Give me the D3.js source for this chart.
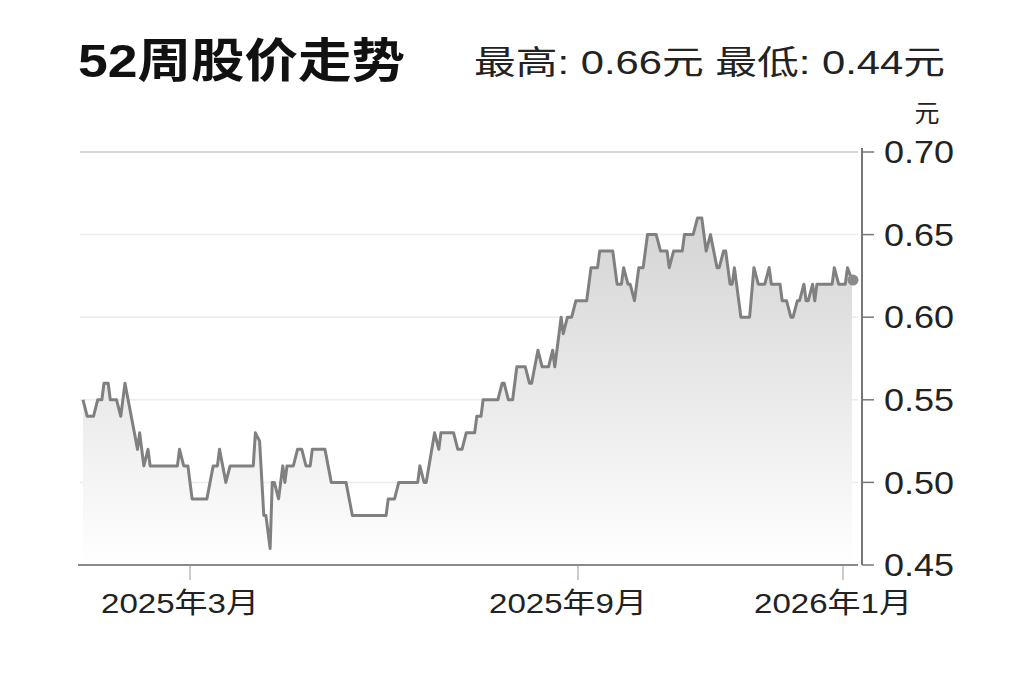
<!DOCTYPE html><html><head><meta charset="utf-8">
<script src="https://cdn.jsdelivr.net/npm/d3@7"></script>
<style>body{margin:0;background:#fff}</style></head><body><svg id="c" width="1023" height="682"></svg>
<script>
const dayOffsets=[0,2,5,7,9,10,12,13,16,18,20,26,27,29,31,32,45,46,48,50,52,59,62,64,65,68,70,81,82,84,86,87,89,90,91,93,95,96,97,100,102,104,106,108,109,115,118,125,128,144,145,148,150,159,160,162,163,167,169,170,176,178,180,182,186,187,189,190,197,199,200,202,204,206,210,212,213,216,218,221,223,224,227,228,230,232,234,239,241,244,245,251,253,255,256,258,259,261,263,265,267,271,273,276,277,279,283,284,288,290,292,294,296,299,300,302,303,305,306,307,310,314,316,318,321,323,324,328,329,331,333,334,336,337,339,340,341,343,344,345,352,353,355,358,359,361];
const prices=[0.55,0.54,0.54,0.55,0.55,0.56,0.56,0.55,0.55,0.54,0.56,0.52,0.53,0.51,0.52,0.51,0.51,0.52,0.51,0.51,0.49,0.49,0.51,0.51,0.52,0.50,0.51,0.51,0.53,0.525,0.48,0.48,0.46,0.50,0.50,0.49,0.51,0.50,0.51,0.51,0.52,0.52,0.51,0.51,0.52,0.52,0.50,0.50,0.48,0.48,0.49,0.49,0.50,0.50,0.51,0.50,0.50,0.53,0.52,0.53,0.53,0.52,0.52,0.53,0.53,0.54,0.54,0.55,0.55,0.56,0.56,0.55,0.55,0.57,0.57,0.56,0.56,0.58,0.57,0.57,0.58,0.57,0.60,0.59,0.60,0.60,0.61,0.61,0.63,0.63,0.64,0.64,0.62,0.62,0.63,0.62,0.62,0.61,0.63,0.63,0.65,0.65,0.64,0.64,0.63,0.64,0.64,0.65,0.65,0.66,0.66,0.64,0.65,0.63,0.63,0.64,0.64,0.62,0.62,0.63,0.60,0.60,0.63,0.62,0.62,0.63,0.62,0.62,0.61,0.61,0.60,0.60,0.61,0.61,0.62,0.61,0.61,0.62,0.61,0.62,0.62,0.63,0.62,0.62,0.63,0.6225];
const yTicks=[0.45,0.50,0.55,0.60,0.65,0.70];
const xTickDates=["2025-03-01","2025-09-01","2026-01-01"];
const xTickLabels=["2025年3月","2025年9月","2026年1月"];
const startDate=new Date(2025,0,9);

const svg=d3.select("#c");
const F="'Liberation Sans','DejaVu Sans','Noto Sans CJK SC',sans-serif";
const parse=d3.timeParse("%Y-%m-%d");
const data=dayOffsets.map((d,i)=>({date:d3.timeDay.offset(startDate,d),v:prices[i]}));
const x=d3.scaleTime().domain([startDate,parse("2025-03-01"),parse("2025-09-01"),parse("2026-01-01"),d3.timeDay.offset(startDate,361)]).range([83,190,578,843,852]);
const y=d3.scaleLinear().domain([0.45,0.70]).range([565,152]);

const defs=svg.append("defs");
const g=defs.append("linearGradient").attr("id","gr").attr("x1",0).attr("y1",0).attr("x2",0).attr("y2",1);
g.append("stop").attr("offset","0%").attr("stop-color","#d4d4d4");
g.append("stop").attr("offset","100%").attr("stop-color","#ffffff");

svg.append("g").selectAll("line").data(yTicks.slice(1)).join("line")
 .attr("x1",80).attr("x2",858).attr("y1",d=>y(d)).attr("y2",d=>y(d))
 .attr("stroke",d=>d===0.70?"#c8c8c8":"#ececec").attr("stroke-width",1.5);

svg.append("path").datum(data).attr("fill","url(#gr)")
 .attr("d",d3.area().x(d=>x(d.date)).y0(565).y1(d=>y(d.v)));
svg.append("path").datum(data).attr("fill","none").attr("stroke","#808080").attr("stroke-width",3).attr("stroke-linejoin","round")
 .attr("d",d3.line().x(d=>x(d.date)).y(d=>y(d.v)));
const last=data[data.length-1];
svg.append("circle").attr("cx",x(last.date)+1).attr("cy",y(last.v)).attr("r",5.5).attr("fill","#8a8a8a");

svg.append("line").attr("x1",78).attr("x2",858).attr("y1",565).attr("y2",565).attr("stroke","#8a8a8a").attr("stroke-width",2);
const xt=svg.append("g").selectAll("g").data(xTickDates).join("g").attr("transform",d=>`translate(${x(parse(d))},565)`);
xt.append("line").attr("y1",0).attr("y2",15).attr("stroke","#999").attr("stroke-width",1);
xt.append("text").data(xTickLabels).attr("y",48).attr("x",-10).attr("text-anchor","middle").attr("font-family",F).attr("font-size",28).attr("textLength",158).attr("lengthAdjust","spacingAndGlyphs").attr("fill","#222").text(d=>d);

svg.append("line").attr("x1",862).attr("x2",862).attr("y1",148).attr("y2",565).attr("stroke","#777").attr("stroke-width",2);
const yt=svg.append("g").selectAll("g").data(yTicks).join("g").attr("transform",d=>`translate(862,${y(d)})`);
yt.append("line").attr("x2",12).attr("stroke","#777").attr("stroke-width",1.5);
yt.append("text").attr("x",22).attr("dy","0.36em").attr("font-family",F).attr("font-size",31).attr("textLength",70).attr("lengthAdjust","spacingAndGlyphs").attr("fill","#222").text(d=>d.toFixed(2));
svg.append("text").attr("x",927).attr("y",122).attr("text-anchor","middle").attr("font-family",F).attr("font-size",25).attr("fill","#222").text("元");

svg.append("text").attr("x",78).attr("y",77).attr("font-family",F).attr("font-weight","bold").attr("font-size",47).attr("textLength",327).attr("lengthAdjust","spacingAndGlyphs").attr("fill","#111").text("52周股价走势");
svg.append("text").attr("x",474).attr("y",74).attr("font-family",F).attr("font-size",33).attr("textLength",471).attr("lengthAdjust","spacingAndGlyphs").attr("fill","#222").text("最高: 0.66元   最低: 0.44元");
</script></body></html>
